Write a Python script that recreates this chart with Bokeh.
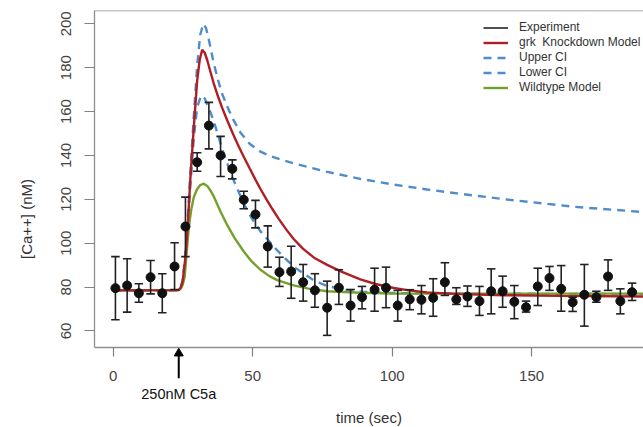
from bokeh.plotting import figure
from bokeh.models import Range1d, FixedTicker, Span, Legend, LegendItem
from bokeh.core.properties import value
from bokeh.embed import file_html
from bokeh.resources import INLINE

# ---------------- data ----------------
exp_time = [0.8, 5.0, 9.2, 13.4, 17.6, 22.0, 25.9, 30.1, 34.3, 38.5, 42.7, 46.8,
            51.0, 55.4, 59.6, 63.8, 68.1, 72.3, 76.7, 80.9, 85.1, 89.2, 93.7,
            97.8, 102.0, 106.3, 110.5, 114.7, 118.9, 123.0, 127.0, 131.3, 135.5,
            139.6, 143.8, 148.0, 152.2, 156.4, 160.6, 164.7, 168.9, 173.2, 177.4,
            181.8, 186.0]
exp_mean = [79.5, 80.7, 77.2, 84.5, 77.2, 89.4, 107.6, 136.9, 153.6, 140.0, 133.9,
            119.8, 113.1, 98.5, 86.8, 87.1, 82.2, 78.5, 70.6, 79.7, 71.6, 75.4,
            78.8, 79.7, 71.6, 74.4, 74.2, 75.1, 82.2, 74.4, 75.7, 73.6, 78.1, 78.1,
            73.3, 70.8, 80.3, 84.1, 79.2, 73.1, 76.5, 75.4, 84.8, 73.6, 77.7]
exp_upper = [93.9, 92.9, 81.5, 92.1, 86.1, 100.2, 121.0, 141.2, 164.2, 148.7, 138.0,
             123.7, 119.5, 107.9, 93.6, 98.6, 90.3, 86.1, 82.7, 87.9, 78.9, 80.3,
             88.6, 89.1, 78.5, 78.8, 80.7, 83.8, 91.1, 79.7, 80.5, 80.3, 88.3, 85.0,
             80.7, 73.6, 88.6, 89.4, 89.8, 75.4, 90.3, 78.1, 92.4, 79.2, 81.8]
exp_lower = [65.1, 68.6, 73.1, 76.9, 68.3, 78.9, 93.9, 132.8, 143.0, 130.4, 129.3,
             115.7, 107.0, 89.1, 80.3, 74.9, 73.6, 70.8, 58.0, 72.1, 64.5, 70.1,
             69.0, 70.6, 64.5, 69.7, 67.8, 66.7, 76.2, 72.1, 71.2, 67.1, 67.8, 70.8,
             65.6, 68.6, 71.6, 78.5, 69.0, 68.9, 62.2, 73.1, 78.5, 67.8, 73.9]

grk_time = [0, 23.5, 24.2, 24.9, 25.9, 26.7, 27.7, 28.9, 30.1, 31.0, 31.9, 32.8,
            33.7, 34.6, 36.0, 37.5, 39.0, 40.9, 43.0, 45.0, 46.8, 49.0, 51.0, 52.8,
            55.0, 57.0, 59.4, 62.0, 64.7, 68.0, 72.0, 76.7, 82.0, 88.6, 94.0, 100.6,
            106.0, 112.5, 124.5, 140.0, 160.0, 190.1]
grk_ca = [78.5, 78.6, 79.8, 82.6, 93.6, 107.6, 130.1, 152.8, 174.1, 183.5, 188.2,
          186.8, 183.5, 179.3, 173.0, 167.2, 161.9, 155.9, 149.7, 144.1, 139.4,
          133.9, 129.0, 124.7, 119.9, 115.7, 111.0, 106.3, 101.9, 97.5, 93.4, 90.1,
          86.9, 83.5, 81.4, 79.6, 78.5, 77.6, 76.8, 76.3, 76.0, 75.7]

wt_time = [0, 23.5, 24.2, 24.9, 25.6, 26.3, 27.1, 28.0, 28.9, 30.0, 31.2, 32.5,
           33.8, 35.0, 36.1, 38.5, 40.9, 43.5, 46.8, 49.5, 52.8, 56.0, 58.8, 64.7,
           70.0, 76.7, 88.6, 100.0, 130.0, 190.1]
wt_ca = [78.5, 78.6, 79.3, 81.0, 84.5, 95.0, 107.3, 115.5, 121.0, 124.5, 126.5,
         127.1, 126.0, 123.7, 121.2, 114.3, 108.2, 102.4, 96.2, 91.9, 87.9, 85.0,
         83.2, 80.8, 79.3, 78.1, 77.4, 77.1, 77.0, 77.0]

up_time = [0, 23.5, 24.2, 24.9, 25.9, 26.8, 27.7, 28.9, 30.1, 31.2, 32.3, 33.3,
           34.5, 35.8, 37.3, 39.0, 40.9, 43.0, 45.6, 49.0, 52.8, 56.0, 59.9, 64.7,
           76.7, 88.6, 100.6, 112.5, 123.3, 141.2, 165.1, 190.1]
up_ca = [78.5, 78.6, 79.9, 83.0, 95.0, 113.0, 133.0, 158.0, 181.0, 195.0, 200.0,
         198.0, 191.5, 183.5, 175.6, 168.2, 162.3, 156.4, 150.5, 145.2, 141.7, 139.9,
         138.2, 136.4, 132.5, 129.3, 126.7, 124.5, 122.7, 119.9, 116.6, 114.2]

lo_time = [0, 23.5, 24.2, 24.9, 25.9, 26.8, 27.7, 28.9, 30.1, 31.5, 32.8, 34.5,
           36.1, 37.8, 39.6, 42.7, 46.8, 49.5, 52.8, 58.8, 64.7, 71.9, 76.7, 82.7,
           90.0, 100.0, 130.0, 190.1]
lo_ca = [78.5, 78.6, 79.8, 82.4, 93.0, 110.0, 127.0, 148.0, 162.0, 167.3, 166.0,
         161.0, 155.4, 148.3, 140.9, 130.1, 118.0, 111.7, 105.4, 96.7, 89.3, 83.0,
         80.5, 78.8, 77.8, 77.3, 77.0, 76.8]

x_ticks = [0, 50, 100, 150]
y_ticks = [60, 80, 100, 120, 140, 160, 180, 200]
stim_time = [23.5]
stim_label = ["250nM C5a"]

# ---------------- figure ----------------
FONT = "Liberation Sans"
RED = "#b01e23"
BLUE = "#4f8cc9"
GREEN = "#74a02c"
FRAME = "#8e8e8e"

Y_LOW, Y_HIGH = 52.5, 206.06          # visible data box
p = figure(width=643, height=427, output_backend="svg", toolbar_location=None,
           x_range=Range1d(-6.7, 190.1), y_range=Range1d(16.0, Y_HIGH),
           min_border_left=94, min_border_right=0, min_border_top=10,
           min_border_bottom=0)
p.grid.visible = False
p.outline_line_color = None
p.background_fill_color = "white"
p.border_fill_color = "white"

# top edge of the box (right edge lies outside the picture)
p.add_layout(Span(location=Y_HIGH, dimension="width", line_color=FRAME, line_width=1.3))

for ax in (p.xaxis[0], p.yaxis[0]):
    ax.axis_line_color = FRAME
    ax.axis_line_width = 1.3
    ax.major_tick_line_color = "#808080"
    ax.major_tick_line_width = 1.2
    ax.minor_tick_line_color = None
    ax.major_tick_in = 0
    ax.major_label_text_font = FONT
    ax.major_label_text_font_size = "15px"
    ax.major_label_text_color = "#444444"
    ax.axis_label_text_font = FONT
    ax.axis_label_text_font_size = "15px"
    ax.axis_label_text_font_style = "normal"
    ax.axis_label_text_color = "#333333"

p.xaxis.fixed_location = Y_LOW
p.xaxis.ticker = FixedTicker(ticks=x_ticks)
p.xaxis.major_tick_out = 9
p.xaxis.major_label_standoff = 15
p.xaxis.axis_label = "time (sec)"
p.xaxis.axis_label_standoff = 24

p.yaxis.bounds = (Y_LOW, Y_HIGH)
p.yaxis.ticker = FixedTicker(ticks=y_ticks)
p.yaxis.major_tick_out = 10
p.yaxis.major_label_standoff = 13
p.yaxis.major_label_orientation = "vertical"
p.yaxis.axis_label = "[Ca++] (nM)"
p.yaxis.axis_label_standoff = 24

# model curves
r_up = p.line(up_time, up_ca, line_color=BLUE, line_width=2.4, line_dash="8 6")
r_lo = p.line(lo_time, lo_ca, line_color=BLUE, line_width=2.4, line_dash="8 6")
r_wt = p.line(wt_time, wt_ca, line_color=GREEN, line_width=2.4)
r_grk = p.line(grk_time, grk_ca, line_color=RED, line_width=2.4)

# experiment with error bars
r_err = p.segment(x0=exp_time, y0=exp_lower, x1=exp_time, y1=exp_upper,
                  line_color="#222222", line_width=1.6)
p.scatter(exp_time, exp_upper, marker="dash", size=8.5, line_color="#222222", line_width=1.6)
p.scatter(exp_time, exp_lower, marker="dash", size=8.5, line_color="#222222", line_width=1.6)
p.scatter(exp_time, exp_mean, marker="circle", size=9, fill_color="#111111",
          line_color="#111111")

# stimulus marker under the axis: arrow + label
p.segment(x0=stim_time, y0=[38.4], x1=stim_time, y1=[49.2], line_color="black",
          line_width=2)
p.scatter(stim_time, [49.8], marker="triangle", size=9, fill_color="black",
          line_color="black")
p.text(x=stim_time, y=[31.4], text=stim_label, text_align="center",
       text_baseline="middle", text_font=value(FONT), text_font_size="14.5px",
       text_color="#111111")

# legend (location = bottom-left corner, in px from the frame's bottom-left)
legend = Legend(items=[
    LegendItem(label="Experiment", renderers=[r_err]),
    LegendItem(label="grk  Knockdown Model", renderers=[r_grk]),
    LegendItem(label="Upper CI", renderers=[r_up]),
    LegendItem(label="Lower CI", renderers=[r_lo]),
    LegendItem(label="Wildtype Model", renderers=[r_wt]),
], location=(389, 332.5))
legend.padding = 0
legend.margin = 0
legend.spacing = 0
legend.border_line_color = None
legend.background_fill_alpha = 0
legend.glyph_width = 25
legend.glyph_height = 15
legend.label_height = 15
legend.label_standoff = 11
legend.label_text_font = FONT
legend.label_text_font_size = "12px"
legend.label_text_color = "#333333"
p.add_layout(legend)

open("out.html", "w").write(file_html(p, INLINE))
